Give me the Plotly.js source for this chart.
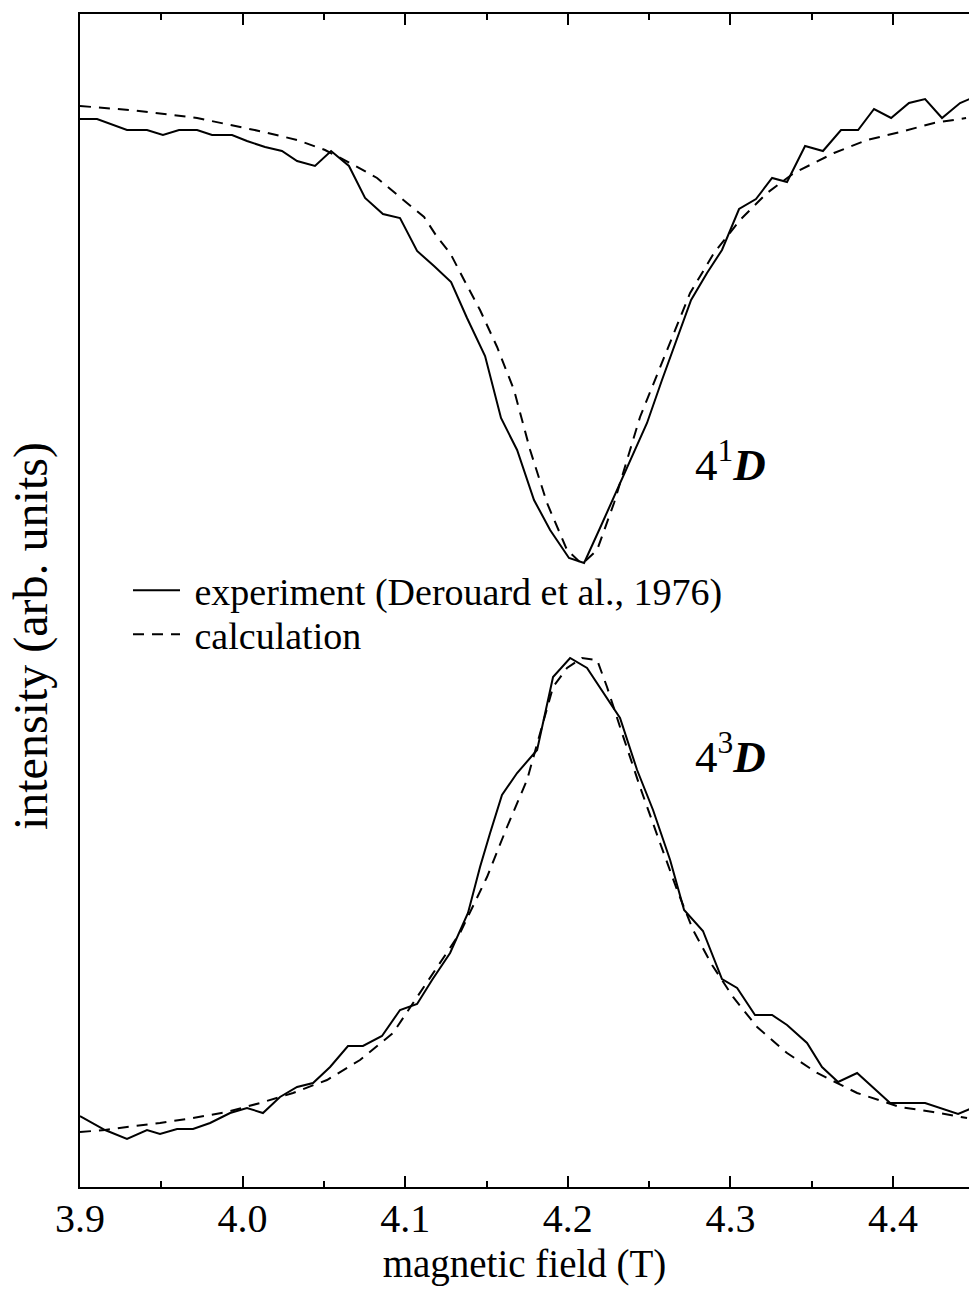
<!DOCTYPE html>
<html>
<head>
<meta charset="utf-8">
<script src="https://cdn.plot.ly/plotly-3.0.1.min.js"></script>
<style>html,body{margin:0;padding:0;background:#fff;}#chart{width:969px;height:1294px;}</style>
</head>
<body>
<div id="chart"></div>
<script>
// magnetic field (T) and intensity (arb. units)
// 4^1D level (upper curve): experiment
var expX1 = [3.900,3.9105,3.9289,3.9412,3.9510,3.9609,3.9720,3.9812,3.9935,4.0027,4.0138,4.0242,4.0335,4.0445,4.0544,4.0654,4.0753,4.0863,4.0968,4.1073,4.1177,4.1282,4.1380,4.1491,4.1589,4.1688,4.1792,4.1891,4.2007,4.2100,4.2198,4.2303,4.2395,4.2487,4.2579,4.2672,4.2758,4.2856,4.2948,4.3053,4.3157,4.3256,4.3348,4.3459,4.3569,4.3680,4.3785,4.3883,4.3988,4.4098,4.4197,4.4301,4.4412,4.4486];
var expY1 = [10.68,10.68,10.57,10.57,10.52,10.57,10.57,10.52,10.52,10.46,10.40,10.36,10.26,10.21,10.36,10.21,9.89,9.73,9.69,9.36,9.21,9.05,8.69,8.31,7.69,7.37,6.87,6.57,6.29,6.24,6.59,6.97,7.31,7.64,8.07,8.49,8.87,9.14,9.37,9.78,9.88,10.09,10.05,10.41,10.36,10.57,10.57,10.78,10.69,10.84,10.88,10.69,10.84,10.89];
// 4^1D level: calculation
var calcX1 = [3.900,3.9308,3.9720,4.0132,4.0335,4.0507,4.0661,4.0827,4.1011,4.1116,4.1196,4.1276,4.1362,4.1460,4.1565,4.1669,4.1768,4.1872,4.1995,4.2087,4.2180,4.2284,4.2444,4.2600,4.2752,4.2899,4.3059,4.3225,4.3391,4.3637,4.3840,4.4043,4.4252,4.4449];
var calcY1 = [10.81,10.77,10.69,10.55,10.47,10.37,10.24,10.09,9.84,9.70,9.50,9.34,9.07,8.77,8.40,7.97,7.37,6.84,6.37,6.23,6.37,6.84,7.70,8.32,8.94,9.34,9.67,9.94,10.14,10.34,10.47,10.55,10.64,10.69];
// 4^3D level (lower curve): experiment
var expX3 = [3.900,3.9154,3.9289,3.9412,3.9492,3.9597,3.9695,3.9800,3.9923,4.0027,4.0125,4.0230,4.0335,4.0433,4.0538,4.0648,4.0740,4.0857,4.0968,4.1073,4.1165,4.1276,4.1386,4.1460,4.1522,4.1595,4.1688,4.1811,4.1909,4.2014,4.2118,4.2260,4.2321,4.2426,4.2524,4.2629,4.2715,4.2831,4.2948,4.3041,4.3151,4.3256,4.3348,4.3471,4.3563,4.3662,4.3779,4.3982,4.4197,4.4400,4.4486];
var expY3 = [0.71,0.57,0.48,0.57,0.53,0.58,0.58,0.64,0.74,0.79,0.74,0.90,1.00,1.04,1.20,1.41,1.41,1.51,1.77,1.83,2.07,2.34,2.74,3.20,3.54,3.92,4.14,4.37,5.10,5.29,5.19,4.84,4.69,4.17,3.77,3.27,2.77,2.56,2.08,1.99,1.72,1.72,1.62,1.44,1.20,1.05,1.14,0.84,0.84,0.73,0.79];
// 4^3D level: calculation
var calcX3 = [3.900,3.9154,3.9289,3.9492,3.9695,3.9904,4.0107,4.0310,4.0519,4.0722,4.0925,4.1060,4.1337,4.1503,4.1626,4.1749,4.1829,4.1909,4.1995,4.2087,4.2180,4.2241,4.2333,4.2444,4.2567,4.2672,4.2770,4.2887,4.3016,4.3164,4.3348,4.3533,4.3779,4.4043,4.4246,4.4455];
var calcY3 = [0.55,0.57,0.60,0.64,0.69,0.75,0.84,0.94,1.07,1.27,1.54,1.87,2.54,3.10,3.60,4.07,4.54,5.00,5.19,5.29,5.27,5.00,4.54,4.00,3.44,2.97,2.57,2.22,1.90,1.60,1.34,1.14,0.94,0.80,0.75,0.69];

var tickVals = [3.9,4.0,4.1,4.2,4.3,4.4];
var tickText = ['3.9','4.0','4.1','4.2','4.3','4.4'];
var seriesNames = ['experiment (Derouard et al., 1976)','calculation'];
var levelLabels = ['4<sup>1</sup><b><i>D</i></b>','4<sup>3</sup><b><i>D</i></b>'];
var yTitle = 'intensity (arb. units)';

var serif = 'Liberation Serif, Times New Roman, serif';
var solid = {color:'#000', width:2, dash:'solid'};
var dashed = {color:'#000', width:2, dash:'11px,8px'};
var NB = '\u00a0';

var traces = [
  {x:expX1, y:expY1, type:'scatter', mode:'lines', line:solid, name:NB+seriesNames[0], legendgroup:'exp', legend:'legend', showlegend:true},
  {x:calcX1, y:calcY1, type:'scatter', mode:'lines', line:dashed, name:NB+seriesNames[1], legendgroup:'calc', legend:'legend2', showlegend:true},
  {x:expX3, y:expY3, type:'scatter', mode:'lines', line:solid, name:NB+seriesNames[0], legendgroup:'exp', legend:'legend', showlegend:false},
  {x:calcX3, y:calcY3, type:'scatter', mode:'lines', line:dashed, name:NB+seriesNames[1], legendgroup:'calc', legend:'legend2', showlegend:false}
];

var legFont = {family:serif, size:38, color:'#000'};
var layout = {
  width:969, height:1294,
  margin:{l:80, r:0, t:14, b:107},
  paper_bgcolor:'#fff', plot_bgcolor:'#fff',
  font:{family:serif, color:'#000', size:38},
  showlegend:true,
  legend:{x:0.054, y:0.5354, xanchor:'left', yanchor:'top', bgcolor:'rgba(0,0,0,0)', font:legFont, itemwidth:47},
  legend2:{x:0.054, y:0.4979, xanchor:'left', yanchor:'top', bgcolor:'rgba(0,0,0,0)', font:legFont, itemwidth:47},
  xaxis:{
    range:[3.9, 4.4467], tickmode:'array', tickvals:tickVals, ticktext:tickText,
    ticks:'inside', ticklen:11, tickwidth:2, tickcolor:'#000', ticklabelstandoff:-5,
    minor:{dtick:0.05, tick0:3.9, ticks:'inside', ticklen:6, tickwidth:2, tickcolor:'#000', showgrid:false},
    showline:true, linewidth:2, linecolor:'#000', mirror:'ticks',
    showgrid:false, zeroline:false,
    tickfont:{family:serif, size:40, color:'#000'},
    title:{text:'magnetic field (T)', font:{family:serif, size:39, color:'#000'}, standoff:10}
  },
  yaxis:{
    range:[0, 11.73], showticklabels:false, ticks:'',
    showline:true, linewidth:2, linecolor:'#000', mirror:false,
    showgrid:false, zeroline:false
  },
  annotations:[
    {x:4.2998, y:7.26, xref:'x', yref:'y', text:levelLabels[0], showarrow:false, font:{family:serif, size:45, color:'#000'}},
    {x:4.2998, y:4.34, xref:'x', yref:'y', text:levelLabels[1], showarrow:false, font:{family:serif, size:45, color:'#000'}},
    {x:-0.0551, y:0.4697, xref:'paper', yref:'paper', text:yTitle, textangle:-90, showarrow:false, xanchor:'center', yanchor:'middle', font:{family:serif, size:48, color:'#000'}}
  ]
};

Plotly.newPlot('chart', traces, layout, {displayModeBar:false, staticPlot:true});
</script>
</body>
</html>
